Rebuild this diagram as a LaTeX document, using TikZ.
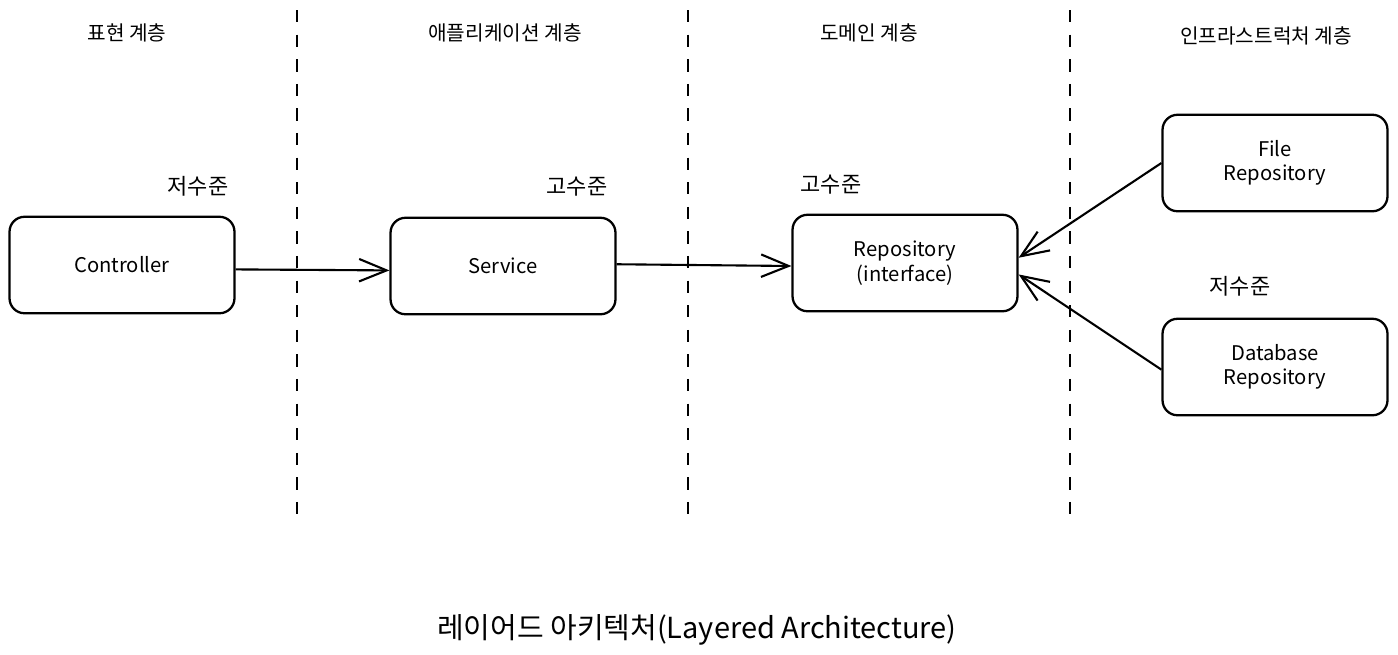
\documentclass[tikz,border=0pt]{standalone}
\usepackage{fontspec}
\setmainfont{Noto Sans CJK KR}
\usetikzlibrary{arrows.meta}

\begin{document}
\begin{tikzpicture}[x=0.02cm,y=-0.02cm,
		box/.style={draw,line width=1.3pt,rounded corners=0.3cm,align=center,minimum width=4.5cm,minimum height=1.93cm,font=\fontsize{11.5}{14}\selectfont},
		layer/.style={font=\fontsize{11.5}{13}\selectfont},
		level/.style={font=\fontsize{12.5}{14}\selectfont},
		divider/.style={line width=1.2pt,dash pattern=on 7pt off 7pt},
		link/.style={line width=1.2pt,-{Straight Barb[length=5.5mm,width=4.5mm]}}]
			\useasboundingbox (0,0) rectangle (1398,654);

			% layers
			\node[layer] (presTitle) at (127,33) {표현 계층};
			\node[layer] (appTitle) at (505,33) {애플리케이션 계층};
			\node[layer] (domTitle) at (869,33) {도메인 계층};
			\node[layer] (infraTitle) at (1266,36) {인프라스트럭처 계층};

			\draw[divider] (297,10) -- (297,525);
			\draw[divider] (688,10) -- (688,525);
			\draw[divider] (1070,10) -- (1070,522);

			% boxes
			\node[box] (ctrl) at (122,265) {Controller};
			\node[box] (svc) at (503,266) {Service};
			\node[box] (repo) at (905,263) {Repository\\(interface)};
			\node[box] (fileRepo) at (1275,163) {File\\Repository};
			\node[box] (dbRepo) at (1275,367) {Database\\Repository};

			\node[level] (ctrlLevel) at (198,186) {저수준};
			\node[level] (svcLevel) at (577,187) {고수준};
			\node[level] (repoLevel) at (831,185) {고수준};
			\node[level] (infraLevel) at (1240,286) {저수준};

			% dependencies
			\draw[link] ([yshift=-2.5pt]ctrl.east) -- ([yshift=-2.5pt]svc.west);
			\draw[link] ([yshift=1pt]svc.east) -- ([yshift=-1.7pt]repo.west);
			\draw[link] (fileRepo.west) -- ([yshift=3pt]repo.east);
			\draw[link] ([yshift=-1.5pt]dbRepo.west) -- ([yshift=-6.5pt]repo.east);

			\node[font=\fontsize{16.5}{18}\selectfont] (caption) at (697,630) {레이어드 아키텍처(Layered Architecture)};
		\end{tikzpicture}
\end{document}
